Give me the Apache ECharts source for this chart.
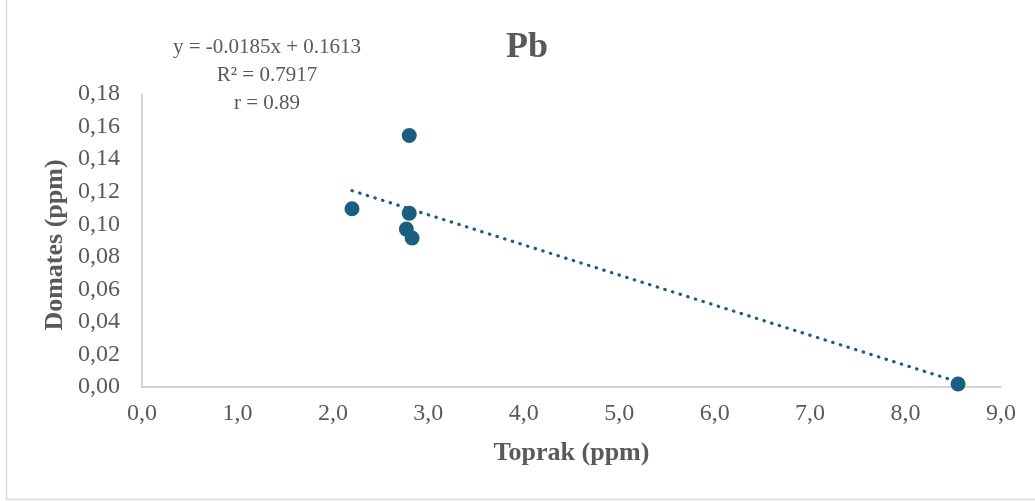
<!DOCTYPE html>
<html><head><meta charset="utf-8">
<script src="https://cdn.jsdelivr.net/npm/echarts@6/dist/echarts.min.js"></script>
<style>html,body{margin:0;padding:0;background:#fff}#c{width:1035px;height:501px}</style>
</head><body><div id="c"></div>
<script>
const toprak = [2.20, 2.80, 2.80, 2.77, 2.83, 8.55];
const domates = [0.1095, 0.1545, 0.1068, 0.0970, 0.0915, 0.0018];
const trendX = [2.20, 8.55];
const trendY = [0.1206, 0.0031];
const eqLines = ['y = -0.0185x + 0.1613', 'R² = 0.7917', 'r = 0.89'];
const titleText = 'Pb';
const xName = 'Toprak (ppm)';
const yName = 'Domates (ppm)';

const col = '#1b5e82';
const txt = '#595959';
const ff = '"Liberation Serif", "Times New Roman", serif';
const chart = echarts.init(document.getElementById('c'));
chart.setOption({
  animation: false,
  backgroundColor: '#fff',
  title: {text: titleText, left: 522, top: 25, textAlign: 'center',
    textStyle: {fontFamily: ff, fontSize: 36, fontWeight: 'bold', color: txt}},
  grid: {left: 142, right: 34, top: 94, bottom: 114},
  xAxis: {type: 'value', min: 0, max: 9, interval: 1,
    name: xName, nameLocation: 'middle', nameGap: 53,
    nameTextStyle: {fontFamily: ff, fontSize: 26, fontWeight: 'bold', color: txt},
    axisLine: {lineStyle: {color: '#c6c6c6', width: 1.5}},
    axisTick: {show: false}, splitLine: {show: false},
    axisLabel: {fontFamily: ff, fontSize: 24, color: txt, margin: 15,
      formatter: v => v.toFixed(1).replace('.', ',')}},
  yAxis: {type: 'value', min: 0, max: 0.18, interval: 0.02,
    axisLine: {show: true, lineStyle: {color: '#c6c6c6', width: 1.5}},
    axisTick: {show: false}, splitLine: {show: false},
    axisLabel: {fontFamily: ff, fontSize: 24, color: txt, margin: 22,
      formatter: v => v.toFixed(2).replace('.', ',')}},
  graphic: [
    {type: 'rect', shape: {x: 6.5, y: -2, width: 1100, height: 501.5}, silent: true,
      style: {fill: 'none', stroke: '#d9d9d9', lineWidth: 1.5}},
    {type: 'text', x: 55, y: 245, rotation: Math.PI / 2,
      style: {text: yName, fontFamily: ff, fontSize: 26, fontWeight: 'bold', fill: txt,
        textAlign: 'center', textVerticalAlign: 'middle'}},
    ...eqLines.map((t, i) => ({type: 'text', x: 267, y: 47 + i * 28,
      style: {text: t, fontFamily: ff, fontSize: 21, fill: txt,
        textAlign: 'center', textVerticalAlign: 'middle'}}))
  ],
  series: [
    {type: 'line', data: trendX.map((x, i) => [x, trendY[i]]), showSymbol: false,
      lineStyle: {color: col, width: 3.2, type: [0.5, 7.5], cap: 'round'}, z: 2, silent: true},
    {type: 'scatter', data: toprak.map((x, i) => [x, domates[i]]), symbolSize: 15,
      itemStyle: {color: col, opacity: 1}, z: 3}
  ]
});
</script></body></html>
